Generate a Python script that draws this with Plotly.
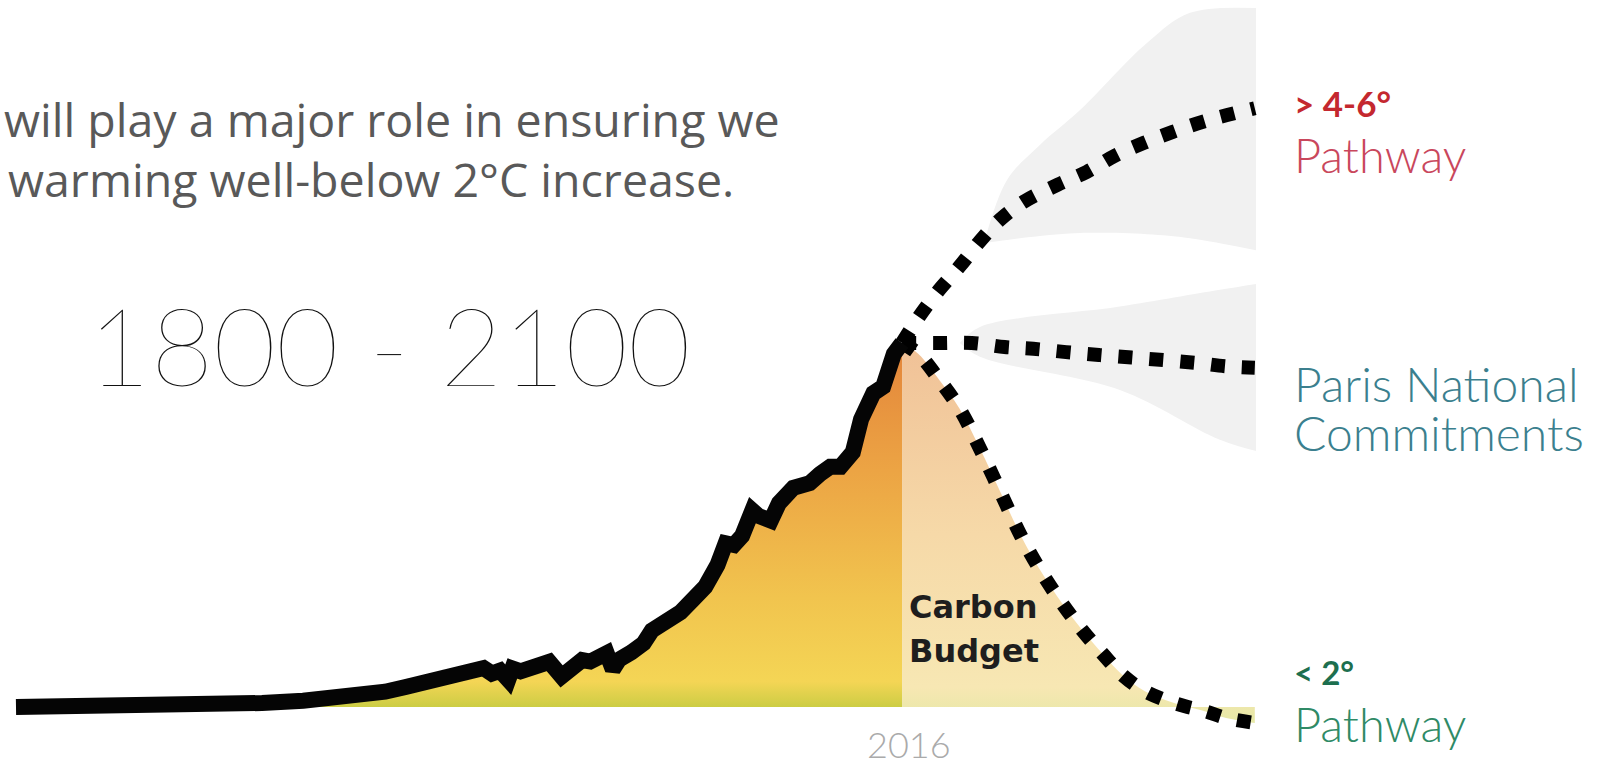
import plotly.graph_objects as go

# ---------------- data (years / emissions, arbitrary units with 2016 = 10) ----------------
hist_years = [1800, 1820, 1840, 1850, 1860, 1870, 1880, 1886, 1890, 1895, 1900, 1903, 1907,
              1909, 1914, 1916, 1918, 1920, 1921, 1923, 1926, 1930, 1933, 1935, 1938, 1940,
              1944, 1945.5, 1947, 1950, 1953, 1955, 1958, 1962, 1965, 1968, 1971, 1973, 1975,
              1977, 1979.5, 1981, 1984, 1986, 1989.5, 1991, 1993.5, 1996, 1998.5, 2001, 2003,
              2004, 2006, 2008, 2009, 2011.4, 2012.4, 2014, 2016]
hist_values = [0.00, 0.01, 0.04, 0.06, 0.11, 0.17, 0.26, 0.36, 0.42, 0.55, 0.70, 0.80, 0.93,
               0.88, 1.07, 0.92, 1.00, 0.75, 1.06, 0.98, 1.10, 1.24, 0.84, 1.05, 1.29, 1.25,
               1.48, 1.03, 1.30, 1.50, 1.75, 2.10, 2.30, 2.60, 2.95, 3.30, 3.90, 4.50, 4.45,
               4.70, 5.40, 5.25, 5.12, 5.60, 6.02, 6.05, 6.15, 6.40, 6.60, 6.60, 6.90,
               7.00, 7.90, 8.40, 8.62, 8.80, 9.34, 9.70, 10.00]

below2_years = [2016, 2020, 2025, 2030, 2035, 2040, 2045, 2050, 2055, 2060, 2065, 2070,
                2075, 2080, 2085, 2090, 2095, 2102]
below2_values = [10.0, 9.7, 9.0, 8.2, 7.1, 5.9, 4.7, 3.7, 2.85, 2.1, 1.45, 0.85,
                 0.45, 0.2, 0.02, -0.12, -0.3, -0.44]

high_years = [2016, 2020, 2025, 2030, 2035, 2040, 2046, 2054, 2061, 2068, 2075, 2082, 2090, 2102]
high_values = [10.0, 10.7, 11.45, 12.1, 12.8, 13.4, 13.9, 14.35, 14.7, 15.15, 15.5, 15.8, 16.1, 16.45]

paris_years = [2016, 2025, 2033, 2041, 2048, 2056, 2064, 2072, 2080, 2088, 2095, 2102]
paris_values = [10.0, 10.0, 10.0, 9.89, 9.84, 9.75, 9.67, 9.6, 9.53, 9.45, 9.36, 9.32]

fan_high_years = [2036.2, 2041.6, 2049.6, 2059.4, 2075.7, 2086.2, 2102.3]
fan_high_top = [12.83, 14.48, 15.44, 16.40, 18.24, 19.07, 19.20]
fan_high_bottom = [12.75, 12.83, 12.94, 13.02, 12.99, 12.88, 12.55]

fan_paris_years = [2030.1, 2035.0, 2069.1, 2093.5, 2102.3]
fan_paris_top = [10.0, 10.44, 11.0, 11.46, 11.62]
fan_paris_bottom = [10.0, 9.62, 8.71, 7.34, 7.03]

intro_lines = ["will play a major role in ensuring we", "warming well-below 2°C increase."]
period_label = "1800 - 2100"
year_label = "2016"
budget_label = ["Carbon", "Budget"]
high_label = ["> 4-6°", "Pathway"]
paris_label = ["Paris National", "Commitments"]
low_label = ["< 2°", "Pathway"]

# ---------------- figure ----------------
W, H = 1608, 767
GRAY = "#f1f1f1"

fig = go.Figure()

# gray uncertainty fans
for yrs, lo, hi in [(fan_high_years, fan_high_bottom, fan_high_top),
                    (fan_paris_years, fan_paris_bottom, fan_paris_top)]:
    fig.add_trace(go.Scatter(x=yrs, y=lo, mode="lines", line=dict(width=0, color=GRAY),
                             hoverinfo="skip", line_shape="spline"))
    fig.add_trace(go.Scatter(x=yrs, y=hi, mode="lines", line=dict(width=0, color=GRAY),
                             fill="tonexty", fillcolor=GRAY, hoverinfo="skip",
                             line_shape="spline"))

# historical emissions area (gradient)
fig.add_trace(go.Scatter(
    x=hist_years, y=hist_values, mode="lines", line=dict(width=0),
    fill="tozeroy",
    fillgradient=dict(type="vertical", start=0, stop=10,
                      colorscale=[[0, "#cccd44"], [0.07, "#f4d555"], [0.3, "#f1c44e"],
                                  [0.65, "#eca444"], [1, "#e3843a"]]),
    hoverinfo="skip"))

# carbon budget area
fig.add_trace(go.Scatter(
    x=below2_years, y=below2_values, mode="lines", line=dict(width=0),
    fill="tozeroy", line_shape="spline",
    fillgradient=dict(type="vertical", start=-0.5, stop=10,
                      colorscale=[[0, "#e4e8a4"], [0.1, "#f7e7b3"], [0.5, "#f6d9a8"],
                                  [1, "#f0c197"]]),
    hoverinfo="skip"))

# dotted pathways
DOT = dict(color="#000000", width=14, dash="14px,17px")
for yrs, vals in [(high_years, high_values), (paris_years, paris_values),
                  (below2_years, below2_values)]:
    fig.add_trace(go.Scatter(x=yrs, y=vals, mode="lines", line=DOT, line_shape="spline",
                             hoverinfo="skip"))

# historical line
fig.add_trace(go.Scatter(x=hist_years, y=hist_values, mode="lines",
                         line=dict(color="#050505", width=16), hoverinfo="skip"))


def px(x):
    return x / W


def py(y):
    return 1 - y / H


ann = []


def label(text, x, y, size, color, family="Lato", weight="normal", xanchor="left"):
    ann.append(dict(text=text, x=px(x), y=py(y), xref="paper", yref="paper",
                    xanchor=xanchor, yanchor="middle", showarrow=False,
                    font=dict(family=family, size=size, color=color, weight=weight)))


label(intro_lines[0], 2, 119, 46.5, "#595959", family="Open Sans")
label(intro_lines[1], 6, 179, 46.5, "#595959", family="Open Sans")
label(period_label, 86, 344, 108, "#111111", weight=200)
label(year_label, 909, 744, 36, "#aaaaaa", weight=300, xanchor="center")
label(budget_label[0], 907, 607, 32, "#1e1e1e", family="DejaVu Sans", weight="bold")
label(budget_label[1], 907, 651, 32, "#1e1e1e", family="DejaVu Sans", weight="bold")
label(high_label[0], 1292, 103, 35, "#c4282f", weight="bold")
label(high_label[1], 1292, 155, 47, "#c9475c", weight=300)
label(paris_label[0], 1292, 383, 48, "#3b7f8e", weight=300)
label(paris_label[1], 1292, 433, 48, "#3b7f8e", weight=300)
label(low_label[0], 1292, 672, 33, "#1d6f4f", weight="bold")
label(low_label[1], 1292, 724, 47, "#2f8a66", weight=300)

fig.update_layout(
    width=W, height=H, margin=dict(l=0, r=0, t=0, b=0, pad=0),
    paper_bgcolor="white", plot_bgcolor="white", showlegend=False,
    xaxis=dict(range=[1796.1, 2188.1], visible=False, fixedrange=True),
    yaxis=dict(range=[-1.648, 19.423], visible=False, fixedrange=True),
    annotations=ann,
)

fig.write_html("out.html", config={"displayModeBar": False},
               post_script="document.body.style.margin='0';document.body.style.overflow='hidden';")
